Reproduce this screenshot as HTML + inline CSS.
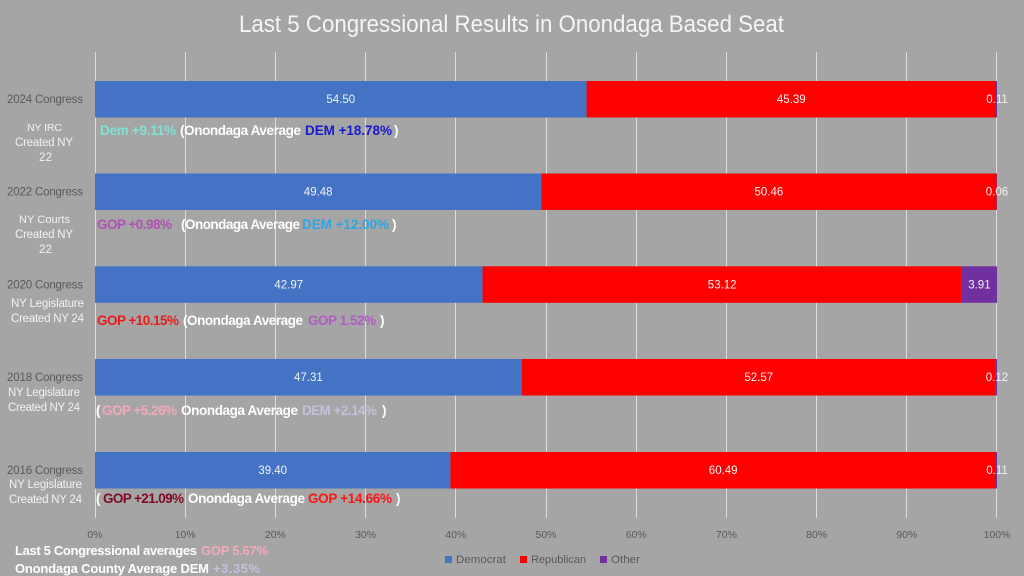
<!DOCTYPE html>
<html>
<head>
<meta charset="utf-8">
<style>
html,body{margin:0;padding:0;background:#a5a5a5;}
svg{display:block;}
text{font-family:"Liberation Sans",Arial,sans-serif;}
</style>
</head>
<body>
<svg width="1024" height="576" viewBox="0 0 1024 576" xmlns="http://www.w3.org/2000/svg">
<rect x="0" y="0" width="1024" height="576" fill="#a5a5a5"/>

<!-- Title -->
<text x="239" y="32" font-size="24" fill="#f5f5f5" textLength="545" lengthAdjust="spacingAndGlyphs">Last 5 Congressional Results in Onondaga Based Seat</text>

<!-- Gridlines -->
<g stroke="#dcdcdc" stroke-width="1">
<line x1="95.5" y1="52" x2="95.5" y2="518"/>
<line x1="185.5" y1="52" x2="185.5" y2="518"/>
<line x1="275.5" y1="52" x2="275.5" y2="518"/>
<line x1="365.5" y1="52" x2="365.5" y2="518"/>
<line x1="455.5" y1="52" x2="455.5" y2="518"/>
<line x1="546.5" y1="52" x2="546.5" y2="518"/>
<line x1="636.5" y1="52" x2="636.5" y2="518"/>
<line x1="726.5" y1="52" x2="726.5" y2="518"/>
<line x1="816.5" y1="52" x2="816.5" y2="518"/>
<line x1="906.5" y1="52" x2="906.5" y2="518"/>
<line x1="996.5" y1="52" x2="996.5" y2="518"/>
</g>

<!-- Bars -->
<g>
<rect x="95" y="81" width="491.6" height="36.5" fill="#4472c4"/>
<rect x="586.6" y="81" width="409.4" height="36.5" fill="#ff0000"/>
<rect x="996" y="81" width="1" height="36.5" fill="#7030a0"/>

<rect x="95" y="173.5" width="446.3" height="36.5" fill="#4472c4"/>
<rect x="541.3" y="173.5" width="455.2" height="36.5" fill="#ff0000"/>
<rect x="996.5" y="173.5" width="0.5" height="36.5" fill="#7030a0"/>

<rect x="95" y="266.3" width="387.6" height="36.5" fill="#4472c4"/>
<rect x="482.6" y="266.3" width="479.1" height="36.5" fill="#ff0000"/>
<rect x="961.7" y="266.3" width="35.3" height="36.5" fill="#7030a0"/>

<rect x="95" y="359" width="426.7" height="36.5" fill="#4472c4"/>
<rect x="521.7" y="359" width="474.2" height="36.5" fill="#ff0000"/>
<rect x="995.9" y="359" width="1.1" height="36.5" fill="#7030a0"/>

<rect x="95" y="452" width="355.4" height="36.5" fill="#4472c4"/>
<rect x="450.4" y="452" width="545.6" height="36.5" fill="#ff0000"/>
<rect x="996" y="452" width="1" height="36.5" fill="#7030a0"/>
</g>

<!-- Bar value labels -->
<g font-size="11.5" fill="#f2f2f2" text-anchor="middle">
<text x="340.8" y="103">54.50</text>
<text x="791.3" y="103">45.39</text>
<text x="997" y="103">0.11</text>
<text x="318.2" y="195.5">49.48</text>
<text x="768.9" y="195.5">50.46</text>
<text x="997" y="195.5">0.06</text>
<text x="288.8" y="288.5">42.97</text>
<text x="722.2" y="288.5">53.12</text>
<text x="979.4" y="288.5">3.91</text>
<text x="308.4" y="381">47.31</text>
<text x="758.8" y="381">52.57</text>
<text x="997" y="381">0.12</text>
<text x="272.7" y="474">39.40</text>
<text x="723.2" y="474">60.49</text>
<text x="997" y="474">0.11</text>
</g>

<!-- Category labels -->
<g font-size="11.5" lengthAdjust="spacingAndGlyphs">
<text x="7" y="103" fill="#595959" textLength="76">2024 Congress</text>
<text x="27" y="131" fill="#f2f2f2" font-size="10.5" textLength="35">NY IRC</text>
<text x="15" y="146" fill="#f2f2f2" textLength="58">Created NY</text>
<text x="39" y="161" fill="#f2f2f2" textLength="13">22</text>

<text x="7" y="195.5" fill="#595959" textLength="76">2022 Congress</text>
<text x="19" y="223" fill="#f2f2f2" font-size="11" textLength="51">NY Courts</text>
<text x="15" y="238" fill="#f2f2f2" textLength="58">Created NY</text>
<text x="39" y="253" fill="#f2f2f2" textLength="13">22</text>

<text x="7" y="288.5" fill="#595959" textLength="76">2020 Congress</text>
<text x="11" y="307" fill="#f2f2f2" textLength="73">NY Legislature</text>
<text x="11" y="322" fill="#f2f2f2" textLength="73">Created NY 24</text>

<text x="7" y="381" fill="#595959" textLength="76">2018 Congress</text>
<text x="8" y="396" fill="#f2f2f2" textLength="72">NY Legislature</text>
<text x="8" y="411" fill="#f2f2f2" textLength="72">Created NY 24</text>

<text x="7" y="474" fill="#595959" textLength="76">2016 Congress</text>
<text x="9" y="488" fill="#f2f2f2" textLength="73">NY Legislature</text>
<text x="9" y="503" fill="#f2f2f2" textLength="73">Created NY 24</text>
</g>

<!-- Annotations -->
<g font-size="13.5" font-weight="bold" lengthAdjust="spacingAndGlyphs">
<text x="100" y="135" fill="#7fe3d6" textLength="76">Dem +9.11%</text>
<text x="180" y="135" fill="#ffffff" textLength="121">(Onondaga Average</text>
<text x="305" y="135" fill="#1a1ad0" textLength="87">DEM +18.78%</text>
<text x="394" y="135" fill="#ffffff">)</text>

<text x="97" y="229" fill="#b150b5" textLength="75">GOP +0.98%</text>
<text x="181" y="229" fill="#ffffff" textLength="119">(Onondaga Average</text>
<text x="302" y="229" fill="#2ea6e2" textLength="87">DEM +12.00%</text>
<text x="392" y="229" fill="#ffffff">)</text>

<text x="97" y="325" fill="#e81c1c" textLength="82">GOP +10.15%</text>
<text x="183" y="325" fill="#ffffff" textLength="120">(Onondaga Average</text>
<text x="308" y="325" fill="#b05cc2" textLength="68">GOP 1.52%</text>
<text x="380" y="325" fill="#ffffff">)</text>

<text x="96" y="415" fill="#ffffff">(</text>
<text x="102" y="415" fill="#f2a9b9" textLength="75">GOP +5.26%</text>
<text x="181" y="415" fill="#ffffff" textLength="117">Onondaga Average</text>
<text x="302" y="415" fill="#c4bfdc" textLength="75">DEM +2.14%</text>
<text x="382" y="415" fill="#ffffff">)</text>

<text x="96" y="503" fill="#ffffff">(</text>
<text x="103" y="503" fill="#7f0a24" textLength="81">GOP +21.09%</text>
<text x="188" y="503" fill="#ffffff" textLength="117">Onondaga Average</text>
<text x="308" y="503" fill="#ff1414" textLength="84">GOP +14.66%</text>
<text x="396" y="503" fill="#ffffff">)</text>
</g>

<!-- X axis tick labels -->
<g font-size="10.5" fill="#595959" text-anchor="middle">
<text x="95" y="538">0%</text>
<text x="185.2" y="538">10%</text>
<text x="275.4" y="538">20%</text>
<text x="365.6" y="538">30%</text>
<text x="455.8" y="538">40%</text>
<text x="546" y="538">50%</text>
<text x="636.2" y="538">60%</text>
<text x="726.4" y="538">70%</text>
<text x="816.6" y="538">80%</text>
<text x="906.8" y="538">90%</text>
<text x="997" y="538">100%</text>
</g>

<!-- Legend -->
<rect x="445" y="556" width="7" height="7" fill="#4472c4"/>
<text x="456" y="563" font-size="11" fill="#595959" textLength="50" lengthAdjust="spacingAndGlyphs">Democrat</text>
<rect x="520" y="556" width="7" height="7" fill="#ff0000"/>
<text x="531" y="563" font-size="11" fill="#595959" textLength="55" lengthAdjust="spacingAndGlyphs">Republican</text>
<rect x="600" y="556" width="7" height="7" fill="#7030a0"/>
<text x="611" y="563" font-size="11" fill="#595959" textLength="29" lengthAdjust="spacingAndGlyphs">Other</text>

<!-- Footer -->
<g font-size="13" font-weight="bold" lengthAdjust="spacingAndGlyphs">
<text x="15" y="555" fill="#ffffff" textLength="182">Last 5 Congressional averages</text>
<text x="201" y="555" fill="#f2a9b9" textLength="67">GOP 5.67%</text>
<text x="15" y="573" fill="#ffffff" textLength="194">Onondaga County Average DEM</text>
<text x="213" y="573" fill="#c4bfdc" textLength="47">+3.35%</text>
</g>
</svg>
</body>
</html>
